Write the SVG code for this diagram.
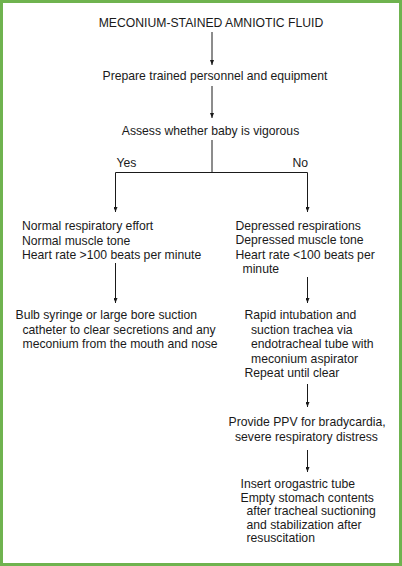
<svg xmlns="http://www.w3.org/2000/svg" width="402" height="566" viewBox="0 0 402 566">
<style>
text{font-family:"Liberation Sans",Arial,Helvetica,sans-serif;font-size:12.2px;fill:#1a1a1a}
.c{text-anchor:middle}
.ln{stroke:#1a1a1a;stroke-width:1;fill:none}
</style>
<defs>
<marker id="ah" viewBox="0 0 5 4" refX="5" refY="2" markerWidth="5" markerHeight="4" markerUnits="userSpaceOnUse" orient="auto">
<path d="M0,0 L5,2 L0,4 Z" fill="#1a1a1a"/>
</marker>
</defs>
<rect x="0" y="0" width="402" height="566" fill="#ffffff"/>
<rect x="1.5" y="1.5" width="399" height="563" fill="none" stroke="#6fb34f" stroke-width="3"/>
<g id="connectors">
<line class="ln" x1="212" y1="32" x2="212" y2="65" marker-end="url(#ah)"/>
<line class="ln" x1="212" y1="86" x2="212" y2="118" marker-end="url(#ah)"/>
<polyline class="ln" points="212,140 212,172.5"/>
<line class="ln" x1="115.5" y1="172.5" x2="307.5" y2="172.5"/>
<line class="ln" x1="115.5" y1="172.5" x2="115.5" y2="212" marker-end="url(#ah)"/>
<line class="ln" x1="307.5" y1="172.5" x2="307.5" y2="212" marker-end="url(#ah)"/>
<line class="ln" x1="115.5" y1="263" x2="115.5" y2="303" marker-end="url(#ah)"/>
<line class="ln" x1="307.5" y1="277" x2="307.5" y2="303" marker-end="url(#ah)"/>
<line class="ln" x1="307.5" y1="384" x2="307.5" y2="407" marker-end="url(#ah)"/>
<line class="ln" x1="307.5" y1="450" x2="307.5" y2="472" marker-end="url(#ah)"/>
</g>
<g id="n-meconium"><text class="c" x="211" y="26.5">MECONIUM-STAINED AMNIOTIC FLUID</text></g>
<g id="n-prepare"><text class="c" x="215" y="80">Prepare trained personnel and equipment</text></g>
<g id="n-assess"><text class="c" x="210.5" y="134.5">Assess whether baby is vigorous</text></g>
<g id="lbl-yes"><text x="116.5" y="167">Yes</text></g>
<g id="lbl-no"><text x="292.5" y="167">No</text></g>
<g id="n-vigorous">
<text x="22" y="230">Normal respiratory effort</text>
<text x="22" y="244.5">Normal muscle tone</text>
<text x="22" y="259">Heart rate &gt;100 beats per minute</text>
</g>
<g id="n-notvigorous">
<text x="235.5" y="229.5">Depressed respirations</text>
<text x="235.5" y="244">Depressed muscle tone</text>
<text x="235.5" y="258.5">Heart rate &lt;100 beats per</text>
<text x="242.5" y="273">minute</text>
</g>
<g id="n-bulb">
<text x="15.5" y="319">Bulb syringe or large bore suction</text>
<text x="22.5" y="333.5">catheter to clear secretions and any</text>
<text x="22.5" y="348">meconium from the mouth and nose</text>
</g>
<g id="n-intubation">
<text x="244.5" y="319">Rapid intubation and</text>
<text x="251" y="333.5">suction trachea via</text>
<text x="251" y="348">endotracheal tube with</text>
<text x="251" y="362.5">meconium aspirator</text>
<text x="244.5" y="377">Repeat until clear</text>
</g>
<g id="n-ppv">
<text x="228.5" y="426">Provide PPV for bradycardia,</text>
<text x="235" y="440.5">severe respiratory distress</text>
</g>
<g id="n-orogastric">
<text x="240.5" y="487.5">Insert orogastric tube</text>
<text x="240.5" y="501.5">Empty stomach contents</text>
<text x="246.5" y="515">after tracheal suctioning</text>
<text x="246.5" y="528.5">and stabilization after</text>
<text x="246.5" y="542">resuscitation</text>
</g>
</svg>
